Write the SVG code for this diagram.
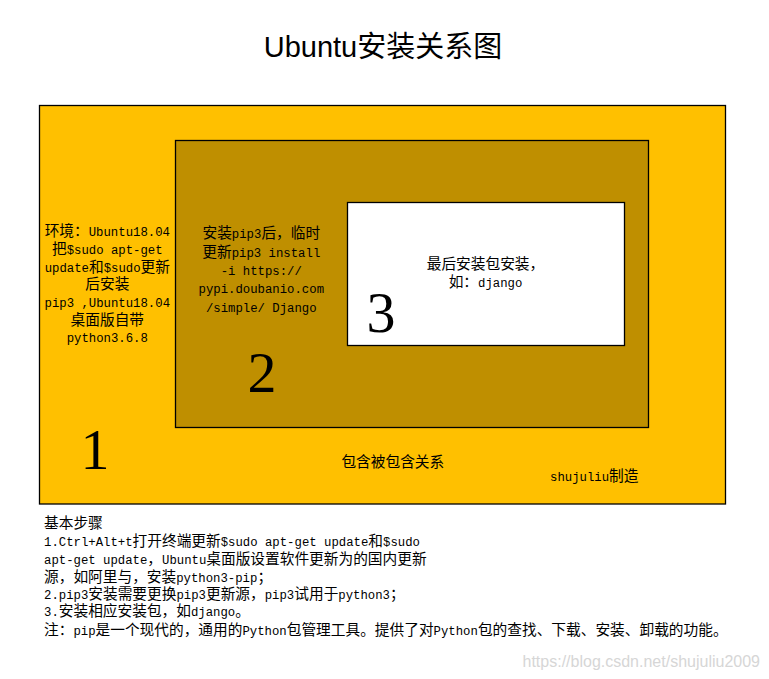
<svg xmlns="http://www.w3.org/2000/svg" width="769" height="679" viewBox="0 0 769 679">
<style>
.box{stroke:#000;stroke-width:1.3}
.t{font-family:"Noto Sans CJK SC","Liberation Sans",sans-serif;font-size:14.7px;fill:#000}
.m{font-family:"Liberation Mono","Noto Sans CJK SC",monospace;font-size:12.3px}
.num{font-family:"Liberation Serif","DejaVu Serif",serif;font-size:58px;fill:#000;text-anchor:middle}
.c{text-anchor:middle}
</style>
<rect width="769" height="679" fill="#fff"/>
<text x="383" y="57" style="font-family:'Liberation Sans','Noto Sans CJK SC',sans-serif;font-size:29px" text-anchor="middle">Ubuntu安装关系图</text>
<g id="node-1">
<rect class="box" x="39.5" y="105.5" width="686" height="398.5" fill="#FFC000"/>
<text class="num" x="95" y="469">1</text>
<text class="t c"><tspan x="107.3" y="236.3">环境：<tspan class="m">Ubuntu18.04</tspan></tspan><tspan x="107.3" y="254">把<tspan class="m">$sudo apt-get</tspan></tspan><tspan x="107.3" y="271.6"><tspan class="m">update</tspan>和<tspan class="m">$sudo</tspan>更新</tspan><tspan x="107.3" y="289.3">后安装</tspan><tspan x="107.3" y="307"><tspan class="m">pip3 ,Ubuntu18.04</tspan></tspan><tspan x="107.3" y="324.6">桌面版自带</tspan><tspan x="107.3" y="342.3"><tspan class="m">python3.6.8</tspan></tspan></text>
<text class="t c" x="392.8" y="467.3">包含被包含关系</text>
<text class="t" x="550" y="480.6"><tspan class="m">shujuliu</tspan>制造</text>
</g>
<g id="node-2">
<rect class="box" x="175.5" y="140.5" width="473" height="287" fill="#BF8F00"/>
<text class="num" x="262" y="392">2</text>
<text class="t c"><tspan x="261.3" y="238.3">安装<tspan class="m">pip3</tspan>后，临时</tspan><tspan x="261.3" y="256.6">更新<tspan class="m">pip3 install</tspan></tspan><tspan x="261.3" y="274.9"><tspan class="m">-i https://</tspan></tspan><tspan x="261.3" y="293.2"><tspan class="m">pypi.doubanio.com</tspan></tspan><tspan x="261.3" y="311.6"><tspan class="m">/simple/ Django</tspan></tspan></text>
</g>
<g id="node-3">
<rect class="box" x="347.5" y="202.5" width="277" height="143" fill="#FFFFFF"/>
<text class="num" x="381" y="332">3</text>
<text class="t c"><tspan x="485.5" y="269">最后安装包安装，</tspan><tspan x="485.5" y="287.3">如：<tspan class="m">django</tspan></tspan></text>
</g>
<g id="connectors"></g>
<g id="notes">
<text class="t"><tspan x="44" y="528">基本步骤</tspan><tspan x="44" y="546"><tspan class="m">1.Ctrl+Alt+t</tspan>打开终端更新<tspan class="m">$sudo apt-get update</tspan>和<tspan class="m">$sudo</tspan></tspan><tspan x="44" y="564.4"><tspan class="m">apt-get update</tspan>，<tspan class="m">Ubuntu</tspan>桌面版设置软件更新为的国内更新</tspan><tspan x="44" y="581.7">源，如阿里与，安装<tspan class="m">python3-pip</tspan>；</tspan><tspan x="44" y="599.4"><tspan class="m">2.pip3</tspan>安装需要更换<tspan class="m">pip3</tspan>更新源，<tspan class="m">pip3</tspan>试用于<tspan class="m">python3</tspan>；</tspan><tspan x="44" y="616"><tspan class="m">3.</tspan>安装相应安装包，如<tspan class="m">django</tspan>。</tspan><tspan x="44" y="634.7">注：<tspan class="m">pip</tspan>是一个现代的，通用的<tspan class="m">Python</tspan>包管理工具。提供了对<tspan class="m">Python</tspan>包的查找、下载、安装、卸载的功能。</tspan></text>
<text x="760" y="666.5" text-anchor="end" style="font-family:'Liberation Sans',sans-serif;font-size:16px;fill:#d6d6d6">https://blog.csdn.net/shujuliu2009</text>
</g>
</svg>
